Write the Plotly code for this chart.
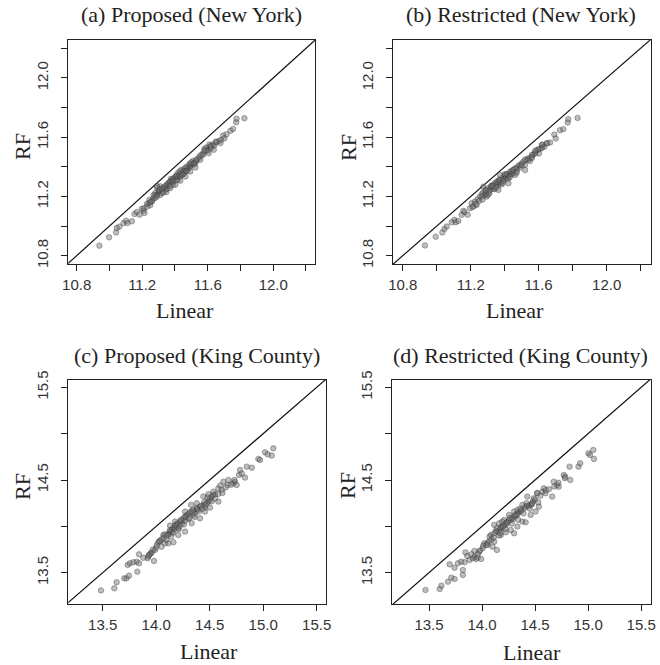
import plotly.graph_objects as go

# ---------------- data ----------------
titles = ["(a) Proposed (New York)", "(b) Restricted (New York)",
          "(c) Proposed (King County)", "(d) Restricted (King County)"]

lin_a = [10.939, 10.998, 11.041, 11.045, 11.061, 11.086, 11.102, 11.110, 11.137, 11.153,
         11.167, 11.184, 11.198, 11.208, 11.214, 11.229, 11.239, 11.249, 11.259, 11.245,
         11.269, 11.280, 11.290, 11.300, 11.306, 11.280, 11.290, 11.310, 11.321, 11.331,
         11.341, 11.351, 11.362, 11.368, 11.376, 11.382, 11.388, 11.392, 11.402, 11.409,
         11.417, 11.423, 11.433, 11.437, 11.443, 11.453, 11.458, 11.464, 11.474, 11.478,
         11.484, 11.490, 11.494, 11.504, 11.511, 11.515, 11.525, 11.531, 11.347, 11.371,
         11.402, 11.433, 11.464, 11.494, 11.525, 11.545, 11.555, 11.572, 11.580, 11.592,
         11.600, 11.613, 11.621, 11.633, 11.641, 11.653, 11.668, 11.682, 11.694, 11.702,
         11.715, 11.739, 11.755, 11.774, 11.776, 11.824, 11.606, 11.637, 11.678,
         11.29, 11.30, 11.32, 11.34, 11.36, 11.38, 11.40, 11.42, 11.44, 11.46,
         11.28, 11.26, 11.31, 11.33, 11.35, 11.37, 11.39, 11.41, 11.43, 11.45,
         11.47, 11.49, 11.51, 11.53, 11.55, 11.57, 11.59, 11.61,
         11.25, 11.27, 11.29, 11.31, 11.33, 11.35, 11.37, 11.39, 11.41, 11.43,
         11.45, 11.47, 11.50, 11.52, 11.56, 11.58, 11.62, 11.65, 11.23, 11.21]
rf_a = [10.868, 10.924, 10.957, 10.987, 10.996, 11.020, 11.036, 11.020, 11.032, 11.081,
        11.095, 11.077, 11.117, 11.104, 11.088, 11.149, 11.155, 11.140, 11.167, 11.178,
        11.189, 11.207, 11.211, 11.229, 11.238, 11.223, 11.261, 11.268, 11.222, 11.256,
        11.245, 11.267, 11.279, 11.297, 11.319, 11.301, 11.279, 11.312, 11.324, 11.342,
        11.312, 11.335, 11.335, 11.357, 11.346, 11.357, 11.373, 11.369, 11.380, 11.396,
        11.391, 11.414, 11.402, 11.414, 11.425, 11.418, 11.431, 11.440, 11.229, 11.256,
        11.279, 11.306, 11.335, 11.369, 11.396, 11.458, 11.447, 11.481, 11.521, 11.530,
        11.508, 11.537, 11.526, 11.553, 11.544, 11.566, 11.575, 11.582, 11.611, 11.593,
        11.620, 11.643, 11.656, 11.701, 11.724, 11.728, 11.492, 11.515, 11.560,
        11.27, 11.24, 11.25, 11.27, 11.29, 11.31, 11.33, 11.36, 11.38, 11.39,
        11.19, 11.17, 11.21, 11.23, 11.28, 11.30, 11.32, 11.34, 11.35, 11.37,
        11.40, 11.42, 11.44, 11.45, 11.47, 11.49, 11.51, 11.55,
        11.16, 11.21, 11.20, 11.25, 11.26, 11.25, 11.27, 11.30, 11.31, 11.37,
        11.35, 11.37, 11.43, 11.42, 11.48, 11.51, 11.54, 11.57, 11.13, 11.12]

lin_b = [10.931, 10.994, 11.033, 11.045, 11.059, 11.088, 11.104, 11.112, 11.127, 11.147,
         11.163, 11.182, 11.157, 11.196, 11.216, 11.206, 11.225, 11.235, 11.241,
         11.255, 11.265, 11.274, 11.284, 11.288, 11.300, 11.308, 11.320, 11.327, 11.335,
         11.343, 11.353, 11.359, 11.367, 11.374, 11.382, 11.392, 11.398, 11.406, 11.414,
         11.422, 11.431, 11.441, 11.451, 11.461, 11.471, 11.480, 11.490, 11.500, 11.510,
         11.520, 11.529, 11.539, 11.549, 11.559, 11.569, 11.582, 11.594, 11.602, 11.614,
         11.621, 11.633, 11.647, 11.667, 11.692, 11.700, 11.725, 11.745, 11.771, 11.774,
         11.829, 11.274, 11.372, 11.294, 11.363, 11.422, 11.461, 11.520,
         11.27, 11.29, 11.31, 11.33, 11.35, 11.37, 11.39, 11.41, 11.43, 11.45,
         11.47, 11.49, 11.30, 11.32, 11.34, 11.36, 11.38, 11.40, 11.42, 11.44,
         11.58, 11.60, 11.62, 11.54, 11.56,
         11.25, 11.27, 11.29, 11.31, 11.33, 11.35, 11.37, 11.39, 11.41, 11.43,
         11.45, 11.47, 11.50, 11.52, 11.56, 11.58, 11.62, 11.65, 11.23, 11.21]
rf_b = [10.869, 10.928, 10.957, 10.981, 10.997, 11.026, 11.042, 11.026, 11.035, 11.076,
        11.094, 11.076, 11.103, 11.120, 11.132, 11.154, 11.165, 11.143, 11.181,
        11.199, 11.215, 11.228, 11.210, 11.244, 11.255, 11.233, 11.266, 11.277, 11.250,
        11.289, 11.300, 11.273, 11.311, 11.295, 11.322, 11.304, 11.340, 11.327, 11.349,
        11.333, 11.367, 11.349, 11.378, 11.390, 11.372, 11.407, 11.394, 11.423, 11.434,
        11.412, 11.446, 11.457, 11.439, 11.468, 11.484, 11.502, 11.513, 11.490, 11.524,
        11.547, 11.535, 11.558, 11.564, 11.618, 11.591, 11.647, 11.654, 11.699, 11.721,
        11.730, 11.266, 11.345, 11.199, 11.244, 11.289, 11.345, 11.378,
        11.20, 11.22, 11.24, 11.26, 11.28, 11.29, 11.31, 11.33, 11.35, 11.36,
        11.39, 11.41, 11.21, 11.27, 11.25, 11.30, 11.28, 11.35, 11.32, 11.37,
        11.49, 11.52, 11.53, 11.45, 11.48,
        11.17, 11.18, 11.24, 11.22, 11.27, 11.26, 11.31, 11.29, 11.35, 11.33,
        11.38, 11.36, 11.41, 11.45, 11.46, 11.51, 11.55, 11.56, 11.15, 11.13]

lin_c = [13.484, 13.609, 13.631, 13.702, 13.724, 13.746, 13.734, 13.755, 13.786, 13.818,
         13.840, 13.824, 13.840, 13.927, 13.942, 13.958, 13.920, 13.980, 14.005, 14.020,
         14.036, 13.989, 14.051, 14.083, 14.098,
         14.067, 14.114, 14.129, 14.145, 14.161, 14.176, 14.192, 14.207, 14.223, 14.238,
         14.254, 14.270, 14.285, 14.301, 14.316, 14.332, 14.347, 14.363, 14.379, 14.410,
         14.441, 14.456, 14.472, 14.488, 14.503, 14.519, 14.534, 14.550,
         14.114, 14.161, 14.207, 14.270, 14.332, 14.410, 14.456, 14.503, 14.581,
         14.083, 14.129, 14.176, 14.270, 14.326, 14.379, 14.441, 14.488, 14.534, 14.581, 14.612,
         14.628, 14.668, 14.675, 14.721, 14.737, 14.752, 14.784, 14.774, 14.830, 14.846,
         14.893, 14.955, 14.971, 15.017, 15.042, 15.080, 15.095,
         14.19, 14.20, 14.15, 14.05, 13.95, 13.93, 14.24, 14.30, 14.35, 14.40,
         14.45, 14.50, 14.22, 14.17, 14.12, 14.27, 14.38, 14.42,
         13.88, 13.97, 14.00, 14.03, 14.07, 14.10, 14.13, 14.16, 14.18, 14.21,
         14.23, 14.26, 14.28, 14.31, 14.34, 14.36, 14.39, 14.43, 14.46, 14.48,
         14.52, 14.55, 14.58, 14.62, 14.65, 14.70, 14.73, 14.80, 14.60, 14.14]
rf_c = [13.309, 13.331, 13.396, 13.439, 13.439, 13.468, 13.583, 13.601, 13.612, 13.619,
        13.601, 13.511, 13.698, 13.673, 13.698, 13.720, 13.655, 13.626, 13.799, 13.827,
        13.842, 13.745, 13.781, 13.817, 13.853,
        13.907, 13.914, 13.943, 13.961, 13.986, 14.008, 14.022, 13.979, 14.051, 14.058,
        14.087, 14.105, 14.123, 14.130, 14.151, 14.166, 14.177, 14.141, 14.187, 14.213,
        14.231, 14.202, 14.249, 14.267, 14.303, 14.321, 14.339, 14.346,
        13.817, 13.828, 13.907, 13.943, 14.033, 14.087, 14.159, 14.202, 14.267,
        13.914, 14.008, 14.051, 14.159, 14.231, 14.249, 14.321, 14.346, 14.374, 14.410, 14.392,
        14.482, 14.446, 14.500, 14.464, 14.482, 14.446, 14.608, 14.554, 14.526, 14.644,
        14.633, 14.727, 14.716, 14.799, 14.777, 14.763, 14.842,
        13.99, 14.03, 13.94, 13.86, 13.71, 13.69, 14.03, 14.08, 14.12, 14.16,
        14.26, 14.28, 14.00, 13.97, 13.92, 14.06, 14.20, 14.22,
        13.66, 13.75, 13.77, 13.84, 13.88, 13.90, 13.96, 13.93, 14.01, 13.97,
        14.07, 14.02, 14.10, 14.09, 14.15, 14.10, 14.18, 14.19, 14.23, 14.31,
        14.27, 14.30, 14.35, 14.36, 14.42, 14.45, 14.50, 14.57, 14.44, 13.89]

lin_d = [13.467, 13.601, 13.617, 13.679, 13.710, 13.741, 13.695, 13.741, 13.773, 13.819,
         13.819, 13.804, 13.835, 13.844, 13.882, 13.913, 13.928, 13.944, 13.959, 13.991,
         13.928, 13.975, 14.006, 14.022, 14.053, 14.068, 14.100, 14.115, 14.140,
         14.084, 14.115, 14.140, 14.162, 14.177, 14.193, 14.224, 14.239, 14.271, 14.286,
         14.308, 14.327, 14.348, 14.364, 14.395, 14.411, 14.427, 14.458, 14.473,
         14.177, 14.224, 14.271, 14.302, 14.333, 14.380, 14.411, 14.458, 14.505, 14.536,
         14.115, 14.162, 14.208, 14.255, 14.302, 14.333, 14.380, 14.427, 14.489, 14.520,
         14.568, 14.583, 14.598,
         14.661, 14.676, 14.707, 14.723, 14.770, 14.785, 14.832, 14.825, 14.909, 14.925,
         15.003, 15.018, 15.049, 15.056,
         14.13, 14.18, 14.21, 14.25, 14.29, 14.33, 14.37, 14.05, 14.09, 13.98,
         14.44, 14.48, 14.16, 14.23,
         13.86, 13.90, 13.96, 14.01, 14.04, 14.07, 14.11, 14.14, 14.17, 14.20,
         14.22, 14.26, 14.28, 14.31, 14.34, 14.36, 14.39, 14.42, 14.45, 14.47,
         14.50, 14.53, 14.55, 14.60, 14.63, 14.68, 14.72, 14.78, 14.52, 14.19]
rf_d = [13.313, 13.324, 13.360, 13.403, 13.446, 13.432, 13.590, 13.554, 13.601, 13.529,
        13.475, 13.619, 13.612, 13.719, 13.637, 13.655, 13.673, 13.648, 13.662, 13.648,
        13.734, 13.727, 13.763, 13.817, 13.799, 13.842, 13.781, 13.835, 13.745,
        13.907, 13.925, 13.943, 13.961, 13.979, 13.997, 14.015, 14.044, 14.069, 14.094,
        14.105, 14.123, 14.151, 14.166, 14.195, 14.213, 14.223, 14.231, 14.249,
        13.907, 13.936, 13.961, 13.925, 13.997, 14.051, 14.044, 14.123, 14.159, 14.213,
        14.015, 14.033, 14.069, 14.123, 14.159, 14.177, 14.231, 14.321, 14.303, 14.357,
        14.374, 14.410, 14.357,
        14.321, 14.482, 14.446, 14.428, 14.554, 14.536, 14.500, 14.644, 14.644, 14.680,
        14.788, 14.770, 14.824, 14.727,
        13.95, 13.99, 14.02, 14.06, 14.08, 14.13, 14.17, 13.82, 13.86, 13.74,
        14.22, 14.27, 13.90, 14.04,
        13.68, 13.70, 13.70, 13.79, 13.80, 13.89, 13.88, 13.98, 13.93, 14.00,
        13.97, 14.09, 14.03, 14.12, 14.07, 14.19, 14.14, 14.25, 14.19, 14.24,
        14.29, 14.26, 14.33, 14.39, 14.40, 14.43, 14.47, 14.52, 14.36, 14.05]

ny_ticks = [10.8, 11.0, 11.2, 11.4, 11.6, 11.8, 12.0, 12.2]
ny_ticktext = ["10.8", "", "11.2", "", "11.6", "", "12.0", ""]
kc_ticks = [13.5, 14.0, 14.5, 15.0, 15.5]
kc_xticktext = ["13.5", "14.0", "14.5", "15.0", "15.5"]
kc_yticktext = ["13.5", "", "14.5", "", "15.5"]

# ---------------- layout geometry (pixels) ----------------
W, H = 660, 665
panels = [
    dict(x=lin_a, y=rf_a, box=(68.3, 315, 40, 264), xr=[10.749, 12.255], yr=[10.744, 12.256],
         xt=ny_ticks, xtt=ny_ticktext, yt=ny_ticks, ytt=ny_ticktext,
         title_xy=(191.5, 15), xlab=(185, 310), ylab=(22, 147)),
    dict(x=lin_b, y=rf_b, box=(392.7, 651, 40, 264), xr=[10.741, 12.261], yr=[10.744, 12.256],
         xt=ny_ticks, xtt=ny_ticktext, yt=ny_ticks, ytt=ny_ticktext,
         title_xy=(521, 15), xlab=(515, 310), ylab=(348, 147)),
    dict(x=lin_c, y=rf_c, box=(68.3, 326, 380, 604), xr=[13.179, 15.587], yr=[13.162, 15.579],
         xt=kc_ticks, xtt=kc_xticktext, yt=kc_ticks, ytt=kc_yticktext,
         title_xy=(197, 355), xlab=(209, 651), ylab=(22, 487)),
    dict(x=lin_d, y=rf_d, box=(392.3, 650.7, 380, 604), xr=[13.154, 15.59], yr=[13.162, 15.579],
         xt=kc_ticks, xtt=kc_xticktext, yt=kc_ticks, ytt=kc_yticktext,
         title_xy=(520, 355), xlab=(532, 652), ylab=(347, 486)),
]

serif = "Liberation Serif, Times New Roman, serif"
sans = "Liberation Sans, Arial, sans-serif"
axcol = "#222222"

fig = go.Figure()
layout = dict(width=W, height=H, margin=dict(l=0, r=0, t=0, b=0, autoexpand=False),
              paper_bgcolor="white", plot_bgcolor="white", showlegend=False,
              annotations=[])

for i, p in enumerate(panels, start=1):
    sfx = "" if i == 1 else str(i)
    xa, ya = "x" + sfx, "y" + sfx
    l, r, t, b = p["box"]
    lo = min(p["xr"][0], p["yr"][0]) - 0.5
    hi = max(p["xr"][1], p["yr"][1]) + 0.5
    fig.add_trace(go.Scatter(x=[lo, hi], y=[lo, hi], mode="lines",
                             line=dict(color="#111111", width=1.2),
                             xaxis=xa, yaxis=ya, hoverinfo="skip"))
    fig.add_trace(go.Scatter(x=p["x"], y=p["y"], mode="markers",
                             marker=dict(size=5.5, color="rgba(110,110,110,0.45)",
                                         line=dict(width=0.7, color="rgba(50,50,50,0.55)")),
                             xaxis=xa, yaxis=ya))
    common = dict(showgrid=False, zeroline=False, showline=True, mirror=True,
                  automargin=False,
                  linecolor=axcol, linewidth=1, ticks="outside", ticklen=6,
                  tickwidth=1, tickcolor=axcol,
                  tickfont=dict(family=sans, size=15, color="#333333"))
    layout["xaxis" + sfx] = dict(common, domain=[l / W, r / W], range=p["xr"],
                                 anchor=ya, tickmode="array", tickvals=p["xt"],
                                 ticktext=p["xtt"], tickangle=0, ticklabelstandoff=1)
    layout["yaxis" + sfx] = dict(common, domain=[1 - b / H, 1 - t / H], range=p["yr"],
                                 anchor=xa, tickmode="array", tickvals=p["yt"],
                                 ticktext=p["ytt"], tickangle=-90, ticklabelstandoff=7)
    tx, ty = p["title_xy"]
    layout["annotations"].append(dict(text=titles[i - 1], x=tx / W, y=1 - ty / H,
                                      xref="paper", yref="paper", showarrow=False,
                                      xanchor="center", yanchor="middle",
                                      font=dict(family=serif, size=22, color="#222222")))
    lx, ly = p["xlab"]
    layout["annotations"].append(dict(text="Linear", x=lx / W, y=1 - ly / H,
                                      xref="paper", yref="paper", showarrow=False,
                                      xanchor="center", yanchor="middle",
                                      font=dict(family=serif, size=22, color="#222222")))
    rx, ry = p["ylab"]
    layout["annotations"].append(dict(text="RF", x=rx / W, y=1 - ry / H, textangle=-90,
                                      xref="paper", yref="paper", showarrow=False,
                                      xanchor="center", yanchor="middle",
                                      font=dict(family=serif, size=22, color="#222222")))

fig.update_layout(**layout)
fig.write_html("out.html", config={"displayModeBar": False},
               post_script="document.body.style.margin='0';document.body.style.overflow='hidden';")
